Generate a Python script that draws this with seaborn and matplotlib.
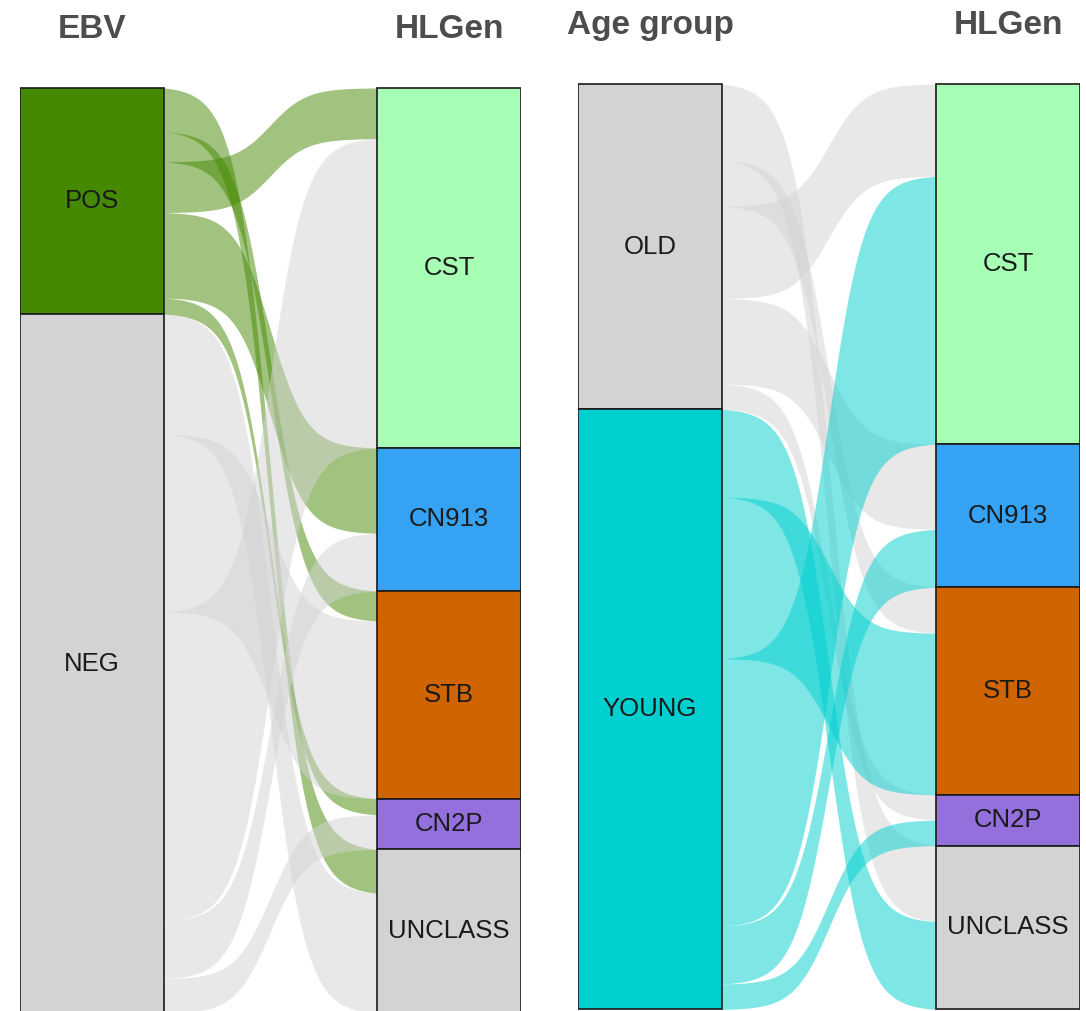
import numpy as np
import matplotlib
matplotlib.use("Agg")
import matplotlib.pyplot as plt
import seaborn as sns

# HLGen subtypes (top to bottom on the right axis)
hlgen_levels = ["CST", "CN913", "STB", "CN2P", "UNCLASS"]
# order in which the flows leave every left-hand node
flow_order = ["UNCLASS", "STB", "CST", "CN913", "CN2P"]

# patients per HLGen subtype (same order as hlgen_levels)
ebv_levels = ["POS", "NEG"]
ebv_pos = [22, 37, 13, 7, 19]
ebv_neg = [134, 25, 77, 15, 52]

age_levels = ["OLD", "YOUNG"]
age_old = [40, 37, 20, 11, 33]
age_young = [116, 25, 70, 11, 38]

node_colors = {
    "POS": "#458900", "NEG": "#d3d3d3",
    "OLD": "#d3d3d3", "YOUNG": "#00cfcf",
    "CST": "#a6ffb4", "CN913": "#35a2f4", "STB": "#d06400",
    "CN2P": "#9370db", "UNCLASS": "#d3d3d3",
}

sns.set_theme(style="white")
plt.rcParams["font.family"] = ["Liberation Sans", "DejaVu Sans"]


def sigmoid(t, k=6.0):
    # logistic curve rescaled to run from 0 to 1 on [0, 1]
    f = lambda u: 1 / (1 + np.exp(-k * (2 * u - 1)))
    return (f(t) - f(0)) / (f(1) - f(0))


def draw_alluvial(ax, left_title, left_levels, counts, node_w):
    counts = np.array(counts, dtype=float)
    src_tot = counts.sum(axis=1)
    tgt_tot = counts.sum(axis=0)
    src_top = np.concatenate([[0], np.cumsum(src_tot)[:-1]])
    tgt_top = np.concatenate([[0], np.cumsum(tgt_tot)[:-1]])

    x0 = node_w / 2
    x1 = 1 - node_w / 2
    t = np.linspace(0, 1, 200)
    xs = x0 + (x1 - x0) * t
    s = sigmoid(t)

    # where each flow lands on the target side: upper sources first
    tgt_off = tgt_top.copy()
    tgt_start = np.zeros_like(counts)
    for i in range(len(left_levels)):
        for j in range(len(hlgen_levels)):
            tgt_start[i, j] = tgt_off[j]
            tgt_off[j] += counts[i, j]

    for i, lev in enumerate(left_levels):
        y = src_top[i]
        for name in flow_order:
            j = hlgen_levels.index(name)
            v = counts[i, j]
            b0 = tgt_start[i, j]
            upper = y + (b0 - y) * s
            ax.fill_between(xs, upper, upper + v, color=node_colors[lev],
                            alpha=0.5, linewidth=0, zorder=1)
            y += v

    # strata
    ax.bar([0] * len(left_levels), src_tot, bottom=src_top, width=node_w,
           color=[node_colors[l] for l in left_levels], edgecolor="#1a1a1a",
           linewidth=1.2, align="center", zorder=3)
    ax.bar([1] * len(hlgen_levels), tgt_tot, bottom=tgt_top, width=node_w,
           color=[node_colors[l] for l in hlgen_levels], edgecolor="#1a1a1a",
           linewidth=1.2, align="center", zorder=3)

    for lev, top, h in zip(left_levels, src_top, src_tot):
        ax.text(0, top + h / 2, lev, ha="center", va="center", fontsize=18.5,
                color="#1a1a1a", zorder=4)
    for lev, top, h in zip(hlgen_levels, tgt_top, tgt_tot):
        ax.text(1, top + h / 2, lev, ha="center", va="center", fontsize=18.5,
                color="#1a1a1a", zorder=4)

    ax.text(0, -21.8, left_title, ha="center", va="baseline", fontsize=24,
            fontweight="bold", color="#4d4d4d")
    ax.text(1, -21.8, "HLGen", ha="center", va="baseline", fontsize=24,
            fontweight="bold", color="#4d4d4d")

    ax.set_xlim(-node_w / 2, 1 + node_w / 2)
    ax.axis("off")


W, H = 1086, 1011
fig = plt.figure(figsize=(W / 100, H / 100), dpi=100, facecolor="white")

ax1 = fig.add_axes([20 / W, 0, 501 / W, 1])
draw_alluvial(ax1, "EBV", ebv_levels, [ebv_pos, ebv_neg], 144 / 357)
ax1.set_ylim(400.0, -38.1)

ax2 = fig.add_axes([578 / W, 0, 502 / W, 1])
draw_alluvial(ax2, "Age group", age_levels, [age_old, age_young], 144 / 358)
ax2.set_ylim(401.7, -36.4)

fig.savefig("out.png", dpi=100, facecolor="white")
